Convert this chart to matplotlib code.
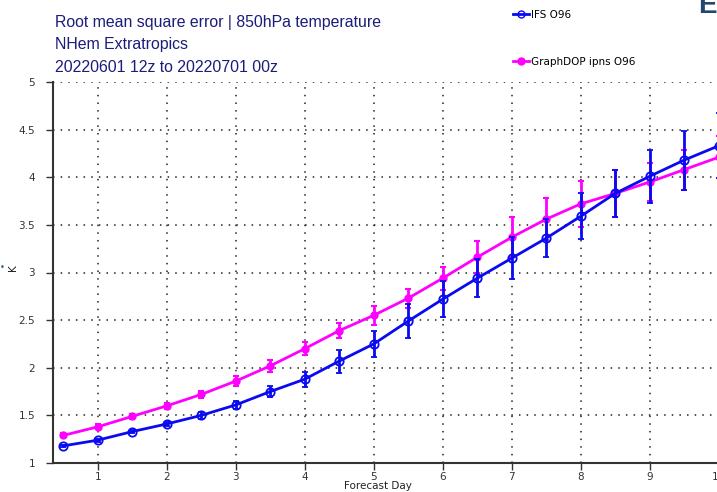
import numpy as np
import matplotlib
matplotlib.use('Agg')
import matplotlib.pyplot as plt
from matplotlib.lines import Line2D

# forecast lead time (days) and RMSE of 850hPa temperature (K)
days = [0.5, 1, 1.5, 2, 2.5, 3, 3.5, 4, 4.5, 5, 5.5, 6, 6.5, 7, 7.5, 8, 8.5, 9, 9.5, 10]
ifs_rmse = [1.18, 1.24, 1.33, 1.41, 1.50, 1.61, 1.75, 1.88, 2.07, 2.25,
            2.49, 2.72, 2.94, 3.15, 3.36, 3.59, 3.83, 4.01, 4.18, 4.33]
ifs_err = [0.01, 0.015, 0.02, 0.025, 0.035, 0.045, 0.06, 0.08, 0.12, 0.14,
           0.18, 0.19, 0.2, 0.22, 0.2, 0.24, 0.25, 0.28, 0.31, 0.34]
gd_rmse = [1.29, 1.38, 1.49, 1.60, 1.72, 1.86, 2.02, 2.20, 2.39, 2.55,
           2.73, 2.94, 3.16, 3.37, 3.56, 3.72, 3.83, 3.95, 4.08, 4.21]
gd_err = [0.02, 0.025, 0.025, 0.03, 0.04, 0.05, 0.06, 0.07, 0.08, 0.1,
          0.1, 0.12, 0.17, 0.21, 0.22, 0.24, 0.25, 0.2, 0.21, 0.22]
yticks = [1, 1.5, 2, 2.5, 3, 3.5, 4, 4.5, 5]
ytick_labels = ['1', '1.5', '2', '2.5', '3', '3.5', '4', '4.5', '5']
xticks = [1, 2, 3, 4, 5, 6, 7, 8, 9, 10]

BLUE = '#0a0af0'
MAGENTA = '#ff00ff'

W, H = 717, 492
fig = plt.figure(figsize=(W / 100, H / 100), dpi=100)
# the plot area runs past the right edge of the figure
ax = fig.add_axes([53 / W, 29 / H, 676 / W, 381 / H])

ax.errorbar(days, gd_rmse, yerr=gd_err, color=MAGENTA, lw=2, marker='o', ms=5,
            mfc=MAGENTA, mec=MAGENTA, elinewidth=2, capsize=2.5, capthick=1.5, zorder=3)
ax.errorbar(days, ifs_rmse, yerr=ifs_err, color=BLUE, lw=2, marker='o', ms=6,
            mfc='none', mec=BLUE, mew=1.3, elinewidth=2, capsize=2.5, capthick=1.5, zorder=4)

ax.set_xlim(0.35, 10.15)
ax.set_ylim(1, 5)
ax.set_xticks(xticks)
ax.set_yticks(yticks)
ax.set_yticklabels(ytick_labels)
ax.grid(True, color='#222222', linestyle=(0, (1, 4)), linewidth=1.1)
ax.set_axisbelow(True)
ax.spines['top'].set_visible(False)
ax.spines['right'].set_visible(False)
for s in ['left', 'bottom']:
    ax.spines[s].set_color('#333333')
    ax.spines[s].set_linewidth(1.5)
ax.tick_params(axis='both', labelsize=7.5, colors='#333333', length=5, width=1, direction='out')
ax.tick_params(axis='y', pad=8)
ax.tick_params(axis='x', pad=1.5)

fig.text(378 / W, 1 - 486 / H, 'Forecast Day', ha='center', va='center', fontsize=7.5, color='#222222')
fig.text(13 / W, 1 - 268 / H, 'K', ha='center', va='center', rotation=90, fontsize=7.5, color='#222222')
fig.text(2 / W, 1 - 268 / H, '\u2022', ha='center', va='center', fontsize=6, color='#1f5f8a')

title_color = '#1c1c7a'
title_lines = ['Root mean square error | 850hPa temperature',
               'NHem Extratropics',
               '20220601 12z to 20220701 00z']
for i, line in enumerate(title_lines):
    fig.text(55 / W, 1 - (22 + 23 * i) / H, line, ha='left', va='center',
             fontsize=11.4, color=title_color, family='Liberation Sans')

fig.text(698 / W, 1 - 6 / H, 'ECMWF', ha='left', va='center', fontsize=20,
         fontweight='bold', color='#23466e', family='Liberation Sans')

handles = [Line2D([], [], color=BLUE, lw=2, marker='o', ms=5, mfc='none', mec=BLUE),
           Line2D([], [], color=MAGENTA, lw=2, marker='o', ms=5, mfc=MAGENTA, mec=MAGENTA)]
fig.legend(handles, ['IFS O96', 'GraphDOP ipns O96'], loc='upper left',
           bbox_to_anchor=(513 / W, 1 - 10 / H), frameon=False, fontsize=7.5,
           labelspacing=3.55, handlelength=1.5, handletextpad=0.2, borderaxespad=0, borderpad=0)

fig.savefig('out.png', dpi=100)
